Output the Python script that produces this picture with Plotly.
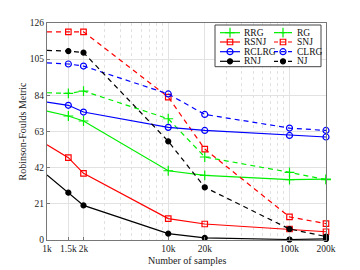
import plotly.graph_objects as go

samples = [1000, 1500, 2000, 10000, 20000, 100000, 200000]
tick_labels = ["1k", "1.5k", "2k", "10k", "20k", "100k", "200k"]
y_ticks = [0, 21, 42, 63, 84, 105, 126]

RRG = [74.9, 72.0, 69.1, 40.2, 37.5, 35.0, 35.4]
RG = [85.5, 85.1, 86.5, 70.4, 48.2, 39.3, 35.0]
RSNJ = [55.3, 47.8, 38.7, 12.4, 9.3, 6.4, 4.8]
SNJ = [120.8, 120.8, 120.9, 83.0, 52.8, 13.4, 9.5]
RCLRG = [80.1, 78.2, 74.3, 65.4, 63.6, 60.7, 59.8]
CLRG = [102.8, 102.2, 101.0, 84.8, 72.9, 65.0, 63.6]
RNJ = [37.7, 27.5, 20.1, 3.7, 1.2, 0.3, 0.6]
NJ = [110.1, 109.7, 108.8, 57.3, 30.6, 6.4, 2.0]

# (name, values, colour, dashed, marker symbol, legend column, legend row)
series = [
    ("RRG", RRG, "#00ee00", False, "cross-thin-open", 0, 0),
    ("RG", RG, "#00ee00", True, "cross-thin-open", 1, 0),
    ("RSNJ", RSNJ, "#ff0000", False, "square-open", 0, 1),
    ("SNJ", SNJ, "#ff0000", True, "square-open", 1, 1),
    ("RCLRG", RCLRG, "#0000ff", False, "circle-open", 0, 2),
    ("CLRG", CLRG, "#0000ff", True, "circle-open", 1, 2),
    ("RNJ", RNJ, "#000000", False, "circle", 0, 3),
    ("NJ", NJ, "#000000", True, "circle", 1, 3),
]

font_family = "Liberation Serif"
OFF = 8                      # default page (body) margin around the figure
W, H = 360 - OFF, 270 - OFF
PL, PT, PR, PB = 47, 23, 326, 240   # plot area in window pixels
ML, MT = PL - OFF, PT - OFF
PW, PH = PR - PL, PB - PT
MR, MB = W - ML - PW, H - MT - PH

def msize(sym):
    return {"cross-thin-open": 7, "square-open": 5.5, "circle-open": 6, "circle": 5}[sym]

fig = go.Figure()
for name, vals, color, dashed, sym, col, row in series:
    fig.add_trace(go.Scatter(
        x=samples, y=vals, name=name, mode="lines+markers",
        line=dict(color=color, width=1.2, dash="5px,4px" if dashed else "solid"),
        marker=dict(symbol=sym, size=msize(sym), color=color,
                    line=dict(color=color, width=1.2)),
        cliponaxis=False, showlegend=False,
    ))

# Custom 2-column legend drawn on an overlay axis measured in plot-area pixels
box_x0, box_x1 = 215 - PL, 321 - PL
box_y0, box_y1 = PB - 66.7, PB - 25
col_line = [(220 - PL, 240 - PL), (274 - PL, 292 - PL)]
col_text = [242 - PL, 295 - PL]
row_y = [PB - v for v in (32.7, 42.0, 51.7, 61.3)]

fig.add_trace(go.Scatter(
    x=[box_x0, box_x1, box_x1, box_x0, box_x0],
    y=[box_y0, box_y0, box_y1, box_y1, box_y0],
    mode="lines", fill="toself", fillcolor="white",
    line=dict(color="#444", width=1), xaxis="x2", yaxis="y2",
    showlegend=False, hoverinfo="skip", cliponaxis=False,
))

annotations = []
for name, vals, color, dashed, sym, col, row in series:
    xa, xb = col_line[col]
    yy = row_y[row]
    fig.add_trace(go.Scatter(
        x=[xa, xb], y=[yy, yy], mode="lines", xaxis="x2", yaxis="y2",
        line=dict(color=color, width=1.2, dash="4px,3px" if dashed else "solid"),
        showlegend=False, hoverinfo="skip", cliponaxis=False,
    ))
    fig.add_trace(go.Scatter(
        x=[(xa + xb) / 2], y=[yy], mode="markers", xaxis="x2", yaxis="y2",
        marker=dict(symbol=sym, size=msize(sym), color=color,
                    line=dict(color=color, width=1.2)),
        showlegend=False, hoverinfo="skip", cliponaxis=False,
    ))
    annotations.append(dict(x=col_text[col], y=yy, xref="x2", yref="y2", text=name,
                            showarrow=False, xanchor="left", yanchor="middle",
                            font=dict(size=9.5, family=font_family, color="#111")))

# y-axis title as rotated text
annotations.append(dict(x=-(PL - 22) / PW, y=0.5, xref="paper", yref="paper",
                        text="Robinson-Foulds Metric", showarrow=False, textangle=-90,
                        xanchor="center", yanchor="middle",
                        font=dict(size=10, family=font_family, color="#222")))
# x-axis title
annotations.append(dict(x=0.5, y=-(260 - PB) / PH, xref="paper", yref="paper",
                        text="Number of samples", showarrow=False,
                        xanchor="center", yanchor="middle",
                        font=dict(size=10, family=font_family, color="#222")))

fig.update_layout(
    width=W, height=H,
    margin=dict(l=ML, r=MR, t=MT, b=MB, autoexpand=False),
    paper_bgcolor="white", plot_bgcolor="white",
    font=dict(family=font_family, size=10, color="#222"),
    showlegend=False,
    annotations=annotations,
    xaxis2=dict(overlaying="x", range=[0, PW], visible=False, fixedrange=True),
    yaxis2=dict(overlaying="y", range=[0, PH], visible=False, fixedrange=True),
)
fig.update_layout(xaxis=dict(
    type="log", range=[3, 5.30103],
    tickvals=samples, ticktext=tick_labels, tickangle=0,
    showgrid=True, gridcolor="#e2e2e2", gridwidth=1,
    minor=dict(dtick="D1", showgrid=True, gridcolor="#e2e2e2", griddash="dot", ticks=""),
    showline=True, linecolor="#777", mirror=True,
    ticks="inside", ticklen=3, tickcolor="#777",
    tickfont=dict(size=9.5), zeroline=False,
))
fig.update_layout(yaxis=dict(
    range=[0, 126], tickvals=y_ticks,
    showgrid=True, gridcolor="#e2e2e2", gridwidth=1,
    showline=True, linecolor="#777", mirror=True,
    ticks="inside", ticklen=3, tickcolor="#777",
    tickfont=dict(size=9.5), zeroline=False,
))
fig.write_html("out.html")
